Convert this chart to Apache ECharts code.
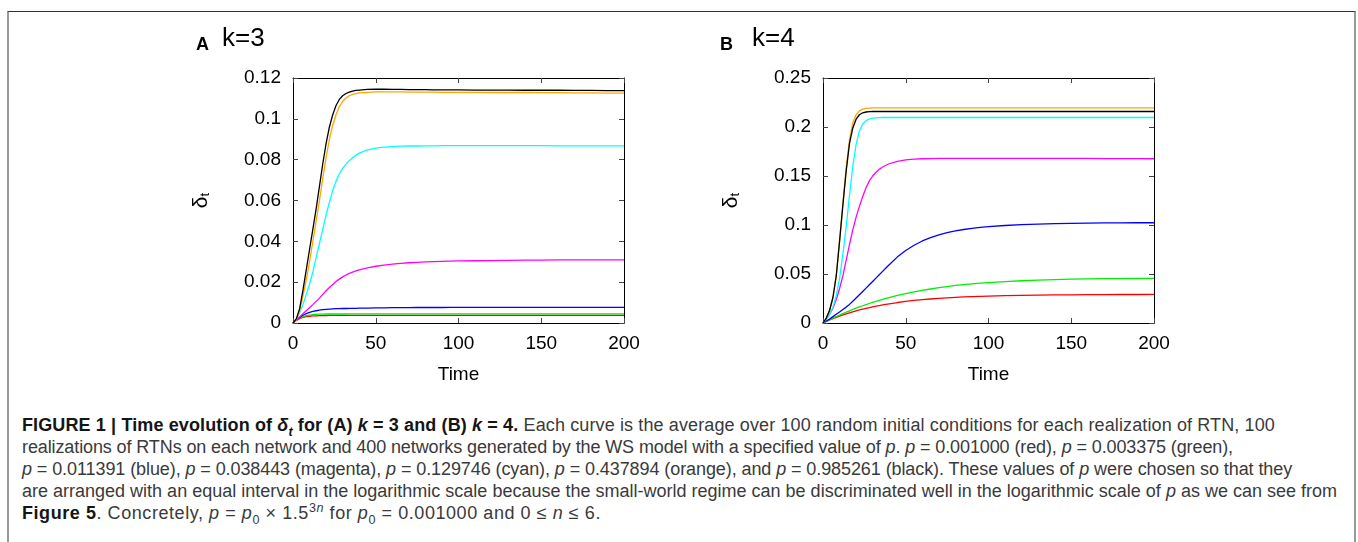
<!DOCTYPE html>
<html>
<head>
<meta charset="utf-8">
<script src="https://cdn.jsdelivr.net/npm/echarts@6/dist/echarts.min.js"></script>
<style>
  html, body { margin: 0; padding: 0; background: #fff; }
  body { width: 1358px; height: 542px; position: relative; overflow: hidden; }
  #frame { position: absolute; left: 7px; top: 11px; width: 1345px; height: 600px;
    border-top: 1px solid #333; border-left: 2px solid #999; border-right: 2px solid #999; }
  #chart { position: absolute; left: 0; top: 0; width: 1358px; height: 400px; }
  #caption { position: absolute; left: 22px; top: 414px; font-family: "Liberation Sans", Arial, sans-serif;
    font-size: 18px; line-height: 22px; color: #3a3a3a; white-space: nowrap; }
  #caption b { color: #151515; }
  #caption .ln { display: block; width: max-content; }
  sub, sup { font-size: 70%; line-height: 0; }
</style>
</head>
<body>
<div id="frame"></div>
<div id="chart"></div>
<div id="caption">
  <span class="ln"><b>FIGURE 1 | Time evolution of <i>δ<sub>t</sub></i> for (A) <i>k</i> = 3 and (B) <i>k</i> = 4.</b> Each curve is the average over 100 random initial conditions for each realization of RTN, 100</span>
  <span class="ln">realizations of RTNs on each network and 400 networks generated by the WS model with a specified value of <i>p</i>. <i>p</i> = 0.001000 (red), <i>p</i> = 0.003375 (green),</span>
  <span class="ln"><i>p</i> = 0.011391 (blue), <i>p</i> = 0.038443 (magenta), <i>p</i> = 0.129746 (cyan), <i>p</i> = 0.437894 (orange), and <i>p</i> = 0.985261 (black). These values of <i>p</i> were chosen so that they</span>
  <span class="ln">are arranged with an equal interval in the logarithmic scale because the small-world regime can be discriminated well in the logarithmic scale of <i>p</i> as we can see from</span>
  <span class="ln"><b>Figure 5</b>. Concretely, <i>p</i> = <i>p</i><sub>0</sub> × 1.5<sup>3<i>n</i></sup> for <i>p</i><sub>0</sub> = 0.001000 and 0 ≤ <i>n</i> ≤ 6.</span>
</div>
<script>
// sample times shared by every curve
const times = [0, 2, 4, 6, 8, 10, 12, 14, 16, 18, 20, 22, 24, 26, 28, 30, 32, 34, 36, 38, 40,
  45, 50, 55, 60, 65, 70, 75, 80, 85, 90, 95, 100,
  110, 120, 130, 140, 150, 160, 170, 180, 190, 200];

// panel A, k=3
const redA = [0, 0.0012, 0.0021, 0.0027, 0.0031, 0.0033, 0.0035, 0.0035, 0.0036, 0.0036, 0.0036, 0.0037, 0.0037, 0.0037, 0.0037, 0.0037, 0.0037, 0.0037, 0.0037, 0.0037, 0.0037,
  0.0037, 0.0037, 0.0037, 0.0037, 0.0037, 0.0037, 0.0037, 0.0037, 0.0037, 0.0037, 0.0037, 0.0037,
  0.0037, 0.0037, 0.0037, 0.0037, 0.0037, 0.0037, 0.0037, 0.0037, 0.0037, 0.0037];
const greenA = [0, 0.0013, 0.0024, 0.0031, 0.0036, 0.0039, 0.0041, 0.0042, 0.0043, 0.0043, 0.0044, 0.0044, 0.0044, 0.0044, 0.0044, 0.0044, 0.0044, 0.0045, 0.0045, 0.0045, 0.0045,
  0.0045, 0.0045, 0.0045, 0.0045, 0.0045, 0.0045, 0.0045, 0.0045, 0.0045, 0.0045, 0.0045, 0.0045,
  0.0045, 0.0045, 0.0045, 0.0045, 0.0045, 0.0045, 0.0045, 0.0045, 0.0045, 0.0045];
const blueA = [0, 0.0014, 0.0027, 0.0038, 0.0046, 0.0052, 0.0057, 0.006, 0.0063, 0.0065, 0.0067, 0.0068, 0.0069, 0.007, 0.007, 0.0071, 0.0071, 0.0072, 0.0072, 0.0072, 0.0073,
  0.0073, 0.0074, 0.0074, 0.0075, 0.0075, 0.0075, 0.0076, 0.0076, 0.0076, 0.0076, 0.0077, 0.0077,
  0.0077, 0.0077, 0.0077, 0.0077, 0.0077, 0.0077, 0.0077, 0.0077, 0.0077, 0.0077];
const magentaA = [0, 0.0015, 0.003, 0.0045, 0.006, 0.0075, 0.009, 0.0106, 0.0122, 0.014, 0.0158, 0.0174, 0.0189, 0.0203, 0.0215, 0.0226, 0.0235, 0.0243, 0.0249, 0.0255, 0.026,
  0.027, 0.0278, 0.0283, 0.0288, 0.0292, 0.0295, 0.0297, 0.0299, 0.0301, 0.0302, 0.0303, 0.0304,
  0.0305, 0.0306, 0.0307, 0.0308, 0.0308, 0.0309, 0.0309, 0.0309, 0.0309, 0.0309];
const cyanA = [0, 0.002, 0.005, 0.009, 0.014, 0.019, 0.025, 0.032, 0.039, 0.046, 0.053, 0.059, 0.065, 0.0695, 0.073, 0.0757, 0.0778, 0.0795, 0.0809, 0.0821, 0.0832,
  0.0848, 0.0857, 0.0861, 0.0864, 0.0866, 0.0867, 0.0867, 0.0868, 0.0868, 0.0869, 0.0869, 0.0869,
  0.0869, 0.0869, 0.0869, 0.0869, 0.0869, 0.0868, 0.0868, 0.0868, 0.0868, 0.0868];
const orangeA = [0, 0.0015, 0.006, 0.013, 0.021, 0.03, 0.04, 0.05, 0.06, 0.071, 0.081, 0.09, 0.097, 0.102, 0.106, 0.1085, 0.1102, 0.1113, 0.112, 0.1124, 0.1127,
  0.113, 0.1132, 0.1132, 0.1132, 0.1132, 0.1131, 0.1131, 0.1131, 0.1131, 0.113, 0.113, 0.113,
  0.113, 0.1129, 0.1129, 0.1129, 0.1128, 0.1128, 0.1127, 0.1127, 0.1126, 0.1126];
const blackA = [0, 0.002, 0.007, 0.016, 0.026, 0.036, 0.046, 0.056, 0.067, 0.078, 0.088, 0.096, 0.102, 0.1065, 0.1095, 0.1113, 0.1124, 0.1131, 0.1136, 0.1139, 0.1141,
  0.1144, 0.1145, 0.1145, 0.1144, 0.1144, 0.1143, 0.1143, 0.1143, 0.1142, 0.1142, 0.1142, 0.1142,
  0.1141, 0.1141, 0.1141, 0.114, 0.114, 0.114, 0.1139, 0.1139, 0.1138, 0.1138];

// panel B, k=4
const redB = [0, 0.0016, 0.0031, 0.0045, 0.0058, 0.007, 0.0082, 0.0093, 0.0104, 0.0114, 0.0124, 0.0133, 0.0142, 0.015, 0.0158, 0.0165, 0.0172, 0.0178, 0.0184, 0.019, 0.0196,
  0.0209, 0.022, 0.023, 0.0238, 0.0245, 0.0251, 0.0257, 0.0262, 0.0266, 0.0269, 0.0272, 0.0275,
  0.0279, 0.0282, 0.0285, 0.0287, 0.0288, 0.0289, 0.029, 0.0291, 0.0291, 0.0292];
const greenB = [0, 0.0017, 0.0034, 0.005, 0.0066, 0.008, 0.0095, 0.011, 0.0124, 0.0138, 0.0151, 0.0164, 0.0176, 0.0188, 0.0199, 0.021, 0.0221, 0.0231, 0.0241, 0.0251, 0.026,
  0.0281, 0.03, 0.0317, 0.0333, 0.0347, 0.036, 0.0372, 0.0383, 0.0392, 0.04, 0.0407, 0.0413,
  0.0423, 0.0431, 0.0438, 0.0443, 0.0447, 0.045, 0.0452, 0.0453, 0.0454, 0.0455];
const blueB = [0, 0.002, 0.004, 0.0065, 0.009, 0.0113, 0.0137, 0.0162, 0.019, 0.0222, 0.0255, 0.0288, 0.0322, 0.0356, 0.039, 0.0424, 0.0458, 0.0493, 0.0527, 0.0561, 0.0595,
  0.0675, 0.074, 0.0793, 0.0837, 0.0872, 0.09, 0.0922, 0.094, 0.0954, 0.0965, 0.0975, 0.0983,
  0.0995, 0.1003, 0.1009, 0.1014, 0.1017, 0.1019, 0.1021, 0.1022, 0.1023, 0.1023];
const magentaB = [0, 0.004, 0.009, 0.015, 0.024, 0.035, 0.048, 0.064, 0.08, 0.095, 0.108, 0.119, 0.129, 0.138, 0.145, 0.15, 0.1538, 0.1568, 0.1592, 0.161, 0.1625,
  0.165, 0.1665, 0.1672, 0.1676, 0.1678, 0.168, 0.168, 0.168, 0.168, 0.168, 0.168, 0.168,
  0.168, 0.168, 0.168, 0.168, 0.1679, 0.1679, 0.1678, 0.1677, 0.1677, 0.1676];
const cyanB = [0, 0.004, 0.009, 0.016, 0.028, 0.045, 0.07, 0.098, 0.13, 0.16, 0.182, 0.196, 0.203, 0.2065, 0.2082, 0.209, 0.2094, 0.2096, 0.2097, 0.2097, 0.2097,
  0.2097, 0.2097, 0.2097, 0.2097, 0.2097, 0.2097, 0.2097, 0.2097, 0.2097, 0.2097, 0.2097, 0.2097,
  0.2097, 0.2097, 0.2097, 0.2097, 0.2097, 0.2097, 0.2097, 0.2097, 0.2097, 0.2097];
const orangeB = [0, 0.005, 0.013, 0.026, 0.048, 0.084, 0.122, 0.158, 0.187, 0.204, 0.2125, 0.2165, 0.2182, 0.2189, 0.2193, 0.2195, 0.2195, 0.2195, 0.2195, 0.2195, 0.2195,
  0.2195, 0.2195, 0.2195, 0.2195, 0.2195, 0.2195, 0.2195, 0.2195, 0.2195, 0.2195, 0.2195, 0.2195,
  0.2195, 0.2195, 0.2195, 0.2195, 0.2195, 0.2195, 0.2195, 0.2195, 0.2195, 0.2195];
const blackB = [0, 0.005, 0.013, 0.026, 0.048, 0.083, 0.12, 0.155, 0.183, 0.199, 0.208, 0.2125, 0.2145, 0.2153, 0.2156, 0.2158, 0.2158, 0.2158, 0.2158, 0.2158, 0.2158,
  0.2158, 0.2158, 0.2158, 0.2158, 0.2158, 0.2158, 0.2158, 0.2158, 0.2158, 0.2158, 0.2158, 0.2158,
  0.2158, 0.2158, 0.2158, 0.2158, 0.2158, 0.2158, 0.2158, 0.2158, 0.2158, 0.2158];

const xTicks = [0, 50, 100, 150, 200];
const yTicksA = [0, 0.02, 0.04, 0.06, 0.08, 0.1, 0.12];
const yTicksB = [0, 0.05, 0.1, 0.15, 0.2, 0.25];

const colors = ['#ff0000', '#00ee00', '#0000ff', '#ff00ff', '#00ffff', '#ffa500', '#000000'];
const panelA = [redA, greenA, blueA, magentaA, cyanA, orangeA, blackA];
const panelB = [redB, greenB, blueB, magentaB, cyanB, orangeB, blackB];

// where each caption line ends in the figure
const captionEnds = [1275, 1233, 1292, 1337, 601];

const font = 'Liberation Sans';

function pairs(vals) {
  return times.map((t, i) => [t, vals[i]]);
}

function xAxes(grid) {
  const base = {
    type: 'value', gridIndex: grid, min: xTicks[0], max: xTicks[xTicks.length - 1],
    interval: xTicks[1] - xTicks[0],
    axisLine: { show: true, onZero: false, lineStyle: { color: '#000', width: 1 } },
    axisTick: { show: true, inside: true, length: 5, lineStyle: { color: '#444' } },
    splitLine: { show: false }
  };
  return [
    Object.assign({}, base, {
      position: 'bottom',
      axisLabel: { fontSize: 19, color: '#000', margin: 11, fontFamily: font },
      name: 'Time', nameLocation: 'middle', nameGap: 42,
      nameTextStyle: { fontSize: 19, color: '#000', fontFamily: font }
    }),
    Object.assign({}, base, { position: 'top', axisLabel: { show: false } })
  ];
}

function yAxes(grid, ticks) {
  const base = {
    type: 'value', gridIndex: grid, min: ticks[0], max: ticks[ticks.length - 1],
    interval: ticks[1] - ticks[0],
    axisLine: { show: true, onZero: false, lineStyle: { color: '#000', width: 1 } },
    axisTick: { show: true, inside: true, length: 5, lineStyle: { color: '#444' } },
    splitLine: { show: false }
  };
  return [
    Object.assign({}, base, {
      position: 'left',
      axisLabel: {
        fontSize: 19, color: '#000', margin: 12, fontFamily: font,
        formatter: v => String(parseFloat(v.toFixed(3)))
      },
      name: '{d|δ}{s|t}', nameLocation: 'middle', nameGap: 81, nameRotate: 90,
      nameTextStyle: {
        color: '#000', fontFamily: font,
        rich: { d: { fontSize: 21, fontFamily: font }, s: { fontSize: 13, fontFamily: font, verticalAlign: 'bottom', padding: [8, 0, 0, 0] } }
      }
    }),
    Object.assign({}, base, { position: 'right', axisLabel: { show: false } })
  ];
}

function lines(panel, grid) {
  return panel.map((vals, i) => ({
    type: 'line', xAxisIndex: grid * 2, yAxisIndex: grid * 2,
    data: pairs(vals), showSymbol: false, smooth: false,
    lineStyle: { color: colors[i], width: 1.3, join: 'round' }, itemStyle: { color: colors[i] },
    animation: false, silent: true
  }));
}

const chart = echarts.init(document.getElementById('chart'), null, { renderer: 'canvas' });
chart.setOption({
  animation: false,
  grid: [
    { left: 293, top: 78, width: 331, height: 245 },
    { left: 823, top: 78, width: 331, height: 245 }
  ],
  xAxis: xAxes(0).concat(xAxes(1)),
  yAxis: yAxes(0, yTicksA).concat(yAxes(1, yTicksB)),
  graphic: [
    { type: 'text', left: 196, top: 36, style: { text: 'A', font: 'bold 18px "Liberation Sans"', fill: '#000' } },
    { type: 'text', left: 222, top: 26, style: { text: 'k=3', font: '26px "Liberation Sans"', fill: '#000' } },
    { type: 'text', left: 720, top: 36, style: { text: 'B', font: 'bold 18px "Liberation Sans"', fill: '#000' } },
    { type: 'text', left: 752, top: 26, style: { text: 'k=4', font: '26px "Liberation Sans"', fill: '#000' } }
  ],
  series: lines(panelA, 0).concat(lines(panelB, 1))
});

// nudge caption letter spacing so each line ends where it does in the figure
document.querySelectorAll('#caption .ln').forEach((ln, i) => {
  const w = ln.getBoundingClientRect().width;
  const n = ln.textContent.length;
  ln.style.letterSpacing = ((captionEnds[i] - 22 - w) / n) + 'px';
});
</script>
</body>
</html>
